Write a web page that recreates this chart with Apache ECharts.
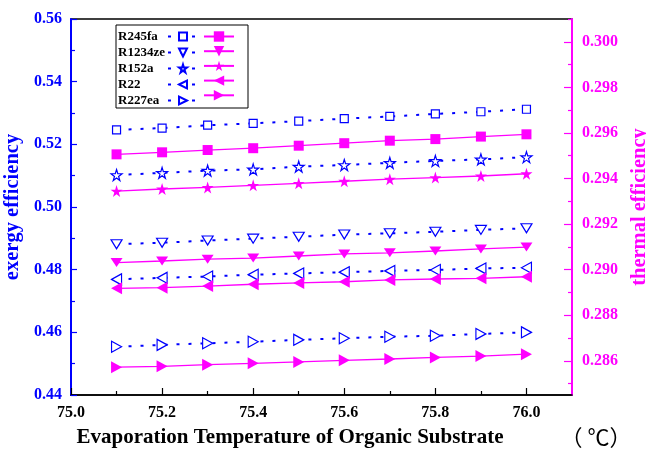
<!DOCTYPE html>
<html>
<head>
<meta charset="utf-8">
<script src="https://cdn.jsdelivr.net/npm/echarts@6/dist/echarts.min.js"></script>
<style>
html, body { margin: 0; padding: 0; background: #fff; }
#chart { width: 646px; height: 452px; }
</style>
</head>
<body>
<div id="chart"></div>
<script>
// evaporation temperature (x)
var temps = [75.1, 75.2, 75.3, 75.4, 75.5, 75.6, 75.7, 75.8, 75.9, 76.0];
var xMajorTicks = [75.0, 75.2, 75.4, 75.6, 75.8, 76.0];
var xMinorTicks = [75.1, 75.3, 75.5, 75.7, 75.9];
var rightMajorTicks = [0.286, 0.288, 0.290, 0.292, 0.294, 0.296, 0.298, 0.300];
var rightMinorTicks = [0.285, 0.287, 0.289, 0.291, 0.293, 0.295, 0.297, 0.299, 0.301];

var fluids = ['R245fa', 'R1234ze', 'R152a', 'R22', 'R227ea'];

// exergy efficiency (left axis)
var exR245fa  = [0.5246, 0.5252, 0.5261, 0.5267, 0.5274, 0.5282, 0.5289, 0.5297, 0.5304, 0.5312];
var exR1234ze = [0.4881, 0.4886, 0.4893, 0.4899, 0.4905, 0.4912, 0.4916, 0.4921, 0.4927, 0.4932];
var exR152a   = [0.5102, 0.5109, 0.5116, 0.5120, 0.5129, 0.5134, 0.5141, 0.5147, 0.5152, 0.5159];
var exR22     = [0.4769, 0.4774, 0.4778, 0.4784, 0.4788, 0.4792, 0.4796, 0.4799, 0.4804, 0.4806];
var exR227ea  = [0.4554, 0.4560, 0.4565, 0.4570, 0.4576, 0.4581, 0.4586, 0.4589, 0.4595, 0.4600];

// thermal efficiency (right axis)
var thR245fa  = [0.29506, 0.29515, 0.29525, 0.29533, 0.29544, 0.29555, 0.29566, 0.29573, 0.29584, 0.29594];
var thR1234ze = [0.29031, 0.29038, 0.29046, 0.29051, 0.29060, 0.29069, 0.29074, 0.29082, 0.29091, 0.29099];
var thR152a   = [0.29345, 0.29354, 0.29361, 0.29370, 0.29379, 0.29388, 0.29397, 0.29404, 0.29411, 0.29421];
var thR22     = [0.28918, 0.28921, 0.28928, 0.28936, 0.28942, 0.28947, 0.28955, 0.28959, 0.28962, 0.28969];
var thR227ea  = [0.28572, 0.28576, 0.28583, 0.28589, 0.28595, 0.28602, 0.28608, 0.28615, 0.28621, 0.28629];

var BLUE = '#0000ff', PINK = '#ff00ff';
var SERIF = '"Liberation Serif", "Times New Roman", serif';
var STAR = 'path://M50,0 L61,35 L98,35 L68,57 L79,91 L50,70 L21,91 L32,57 L2,35 L39,35 Z';

var exData = [exR245fa, exR1234ze, exR152a, exR22, exR227ea];
var thData = [thR245fa, thR1234ze, thR152a, thR22, thR227ea];
// marker per fluid
var marks = [
	{ symbol: 'rect', rotate: 0, size: [8, 8], fsize: [10, 10] },
	{ symbol: 'triangle', rotate: 180, size: [11, 9], fsize: [12, 9] },
	{ symbol: STAR, rotate: 0, size: [11, 11], fsize: [12, 12] },
	{ symbol: 'triangle', rotate: 90, size: [11, 10], fsize: [12, 11] },
	{ symbol: 'triangle', rotate: -90, size: [11, 10], fsize: [12, 11] }
];

function pairs(vals) {
	return temps.map(function(t, i) { return [t, vals[i]]; });
}

var series = [];
fluids.forEach(function(f, k) {
	var m = marks[k];
	series.push({
		name: f, type: 'line', xAxisIndex: 0, yAxisIndex: 0,
		data: pairs(exData[k]),
		symbol: m.symbol, symbolRotate: m.rotate, symbolSize: m.size,
		showAllSymbol: true,
		lineStyle: { color: BLUE, width: 2, type: [3, 9] },
		itemStyle: { color: '#fff', borderColor: BLUE, borderWidth: 1.2 },
		z: 3
	});
	series.push({
		name: f + ' th', type: 'line', xAxisIndex: 0, yAxisIndex: 1,
		data: pairs(thData[k]),
		symbol: m.symbol, symbolRotate: m.rotate, symbolSize: m.fsize,
		showAllSymbol: true,
		lineStyle: { color: PINK, width: 1.3 },
		itemStyle: { color: PINK, borderWidth: 0 },
		z: 3
	});
});

var chart = echarts.init(document.getElementById('chart'), null, { renderer: 'canvas' });
chart.setOption({
	animation: false,
	backgroundColor: '#fff',
	grid: { left: 71, right: 74, top: 19, bottom: 57, show: true, borderColor: '#000', borderWidth: 1.5,
		containLabel: false, outerBoundsMode: 'none' },
	xAxis: [{
		type: 'value', min: 75.0, max: 76.1, position: 'bottom',
		name: 'Evaporation Temperature of Organic Substrate',
		nameLocation: 'middle', nameGap: 32,
		nameTextStyle: { color: '#000', fontFamily: SERIF, fontWeight: 'bold', fontSize: 21, padding: [0, 63, 0, 0] },
		axisLine: { lineStyle: { color: '#000', width: 1.5 } },
		axisTick: { inside: true, length: 7, customValues: xMajorTicks, lineStyle: { color: '#000', width: 1.2 } },
		axisLabel: { customValues: xMajorTicks, margin: 10, color: '#000', fontFamily: SERIF, fontWeight: 'bold', fontSize: 16,
			formatter: function(v) { return v.toFixed(1); } },
		splitLine: { show: false }
	}, {
		type: 'value', min: 75.0, max: 76.1, position: 'bottom',
		axisLine: { show: false },
		axisTick: { inside: true, length: 4, customValues: xMinorTicks, lineStyle: { color: '#000', width: 1.2 } },
		axisLabel: { show: false },
		splitLine: { show: false }
	}],
	yAxis: [{
		type: 'value', min: 0.44, max: 0.56, interval: 0.02, position: 'left',
		name: 'exergy efficiency', nameLocation: 'middle', nameGap: 42,
		nameTextStyle: { color: BLUE, fontFamily: SERIF, fontWeight: 'bold', fontSize: 20.5 },
		axisLine: { show: true, lineStyle: { color: BLUE, width: 2 } },
		axisTick: { inside: true, length: 6, lineStyle: { color: BLUE, width: 1.2 } },
		minorTick: { show: true, splitNumber: 2, length: 4, lineStyle: { color: BLUE, width: 1.2 } },
		axisLabel: { margin: 9, color: BLUE, fontFamily: SERIF, fontWeight: 'bold', fontSize: 16,
			formatter: function(v) { return v.toFixed(2); } },
		splitLine: { show: false }
	}, {
		type: 'value', min: 0.2845, max: 0.301, position: 'right',
		name: 'thermal efficiency', nameLocation: 'middle', nameGap: 55,
		nameTextStyle: { color: PINK, fontFamily: SERIF, fontWeight: 'bold', fontSize: 20.5 },
		axisLine: { show: true, lineStyle: { color: PINK, width: 2 } },
		axisTick: { inside: true, length: 8, customValues: rightMajorTicks, lineStyle: { color: PINK, width: 1.2 } },
		axisLabel: { customValues: rightMajorTicks, margin: 10, color: PINK, fontFamily: SERIF, fontWeight: 'bold', fontSize: 16,
			formatter: function(v) { return v.toFixed(3); } },
		splitLine: { show: false }
	}, {
		type: 'value', min: 0.2845, max: 0.301, position: 'right',
		axisLine: { show: false },
		axisTick: { inside: true, length: 4, customValues: rightMinorTicks, lineStyle: { color: PINK, width: 1.2 } },
		axisLabel: { show: false },
		splitLine: { show: false }
	}],
	legend: [{
		orient: 'vertical', left: 118, top: 30, padding: 0, itemGap: 3,
		itemWidth: 30, itemHeight: 10, align: 'right', selectedMode: false,
		data: fluids,
		formatter: function(n) { return '{a|' + n + '}'; },
		textStyle: { rich: { a: { width: 45, align: 'left', color: '#000', fontFamily: SERIF, fontWeight: 'bold', fontSize: 13 } } }
	}, {
		orient: 'vertical', left: 203, top: 30, padding: 0, itemGap: 3,
		itemWidth: 30, itemHeight: 13, selectedMode: false,
		data: fluids.map(function(f) { return f + ' th'; }),
		formatter: function() { return ''; },
		textStyle: { fontSize: 13 }
	}],
	graphic: [{
		type: 'rect', shape: { x: 116, y: 25, width: 132, height: 83 },
		style: { fill: 'none', stroke: '#000', lineWidth: 1 }, z: 10
	}, {
		type: 'text', x: 596, y: 437,
		style: { text: '（ ℃）', fill: '#000', font: '22px "Noto Sans CJK SC", sans-serif', align: 'center', verticalAlign: 'middle' }
	}],
	series: series
});
</script>
</body>
</html>
